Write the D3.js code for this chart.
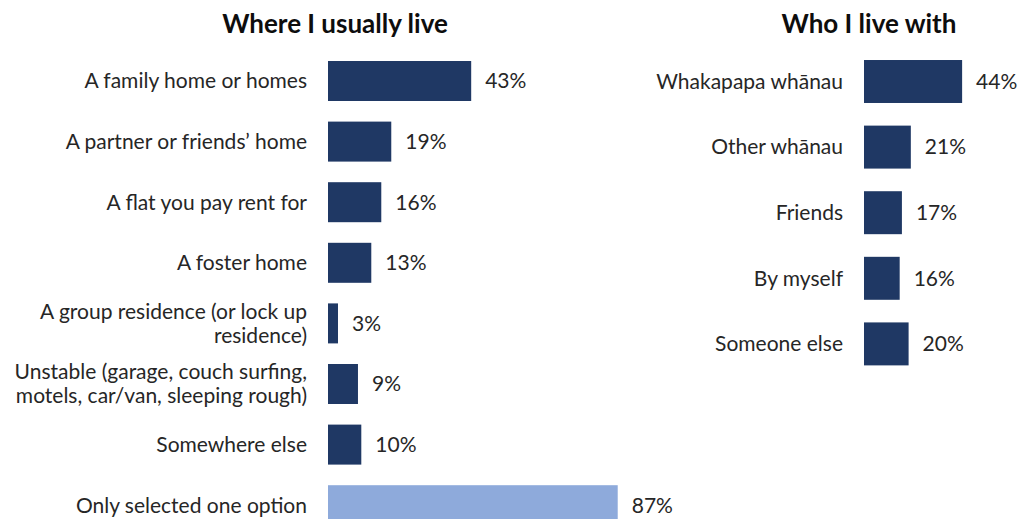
<!DOCTYPE html>
<html>
<head>
<meta charset="utf-8">
<script src="https://cdn.jsdelivr.net/npm/d3@7"></script>
<style>
  html, body { margin: 0; padding: 0; background: #fff; }
  svg { display: block; }
</style>
</head>
<body>
<svg id="chart" width="1018" height="519"></svg>
<script>
// Where I usually live
const placeCategories = [
  "A family home or homes",
  "A partner or friends\u2019 home",
  "A flat you pay rent for",
  "A foster home",
  "A group residence (or lock up\nresidence)",
  "Unstable (garage, couch surfing,\nmotels, car/van, sleeping rough)",
  "Somewhere else"
];
const placeValues = [43, 19, 16, 13, 3, 9, 10];

const singleOptionLabel = "Only selected one option";
const singleOptionValue = 87;

// Who I live with
const withCategories = ["Whakapapa wh\u0101nau", "Other wh\u0101nau", "Friends", "By myself", "Someone else"];
const withValues = [44, 21, 17, 16, 20];

const titles = ["Where I usually live", "Who I live with"];

const NAVY = "#1f3864";
const LIGHT = "#8eaadb";
const TEXT = "#262626";
const FONT = "Lato, 'Open Sans', sans-serif";
const LABEL_SIZE = 21;

const svg = d3.select("#chart");

function drawPanel(opts) {
  const { cats, vals, colors, x, y, labelX, title, titleX } = opts;
  const g = svg.append("g");

  g.append("text")
    .attr("x", titleX).attr("y", 33)
    .attr("text-anchor", "middle")
    .attr("font-family", FONT)
    .attr("font-weight", "bold")
    .attr("font-size", 26)
    .attr("fill", "#0d0d0d")
    .text(title);

  const rows = cats.map((c, i) => ({ c, v: vals[i], color: colors[i] }));

  g.selectAll("rect.bar").data(rows).join("rect")
    .attr("class", "bar")
    .attr("x", x(0))
    .attr("y", d => y(d.c))
    .attr("width", d => x(d.v) - x(0))
    .attr("height", y.bandwidth())
    .attr("fill", d => d.color);

  g.selectAll("text.val").data(rows).join("text")
    .attr("class", "val")
    .attr("x", d => x(d.v) + 14)
    .attr("y", d => y(d.c) + y.bandwidth() / 2)
    .attr("dy", "0.35em")
    .attr("font-family", FONT)
    .attr("font-size", LABEL_SIZE)
    .attr("fill", TEXT)
    .text(d => d.v + "%");

  // Category labels, one text element per line so wrapped labels stack cleanly
  const lineHeight = 24;
  const labelLines = [];
  rows.forEach(d => {
    const lines = d.c.split("\n");
    const cy = y(d.c) + y.bandwidth() / 2;
    lines.forEach((ln, k) => {
      labelLines.push({ text: ln, y: cy + (k - (lines.length - 1) / 2) * lineHeight });
    });
  });

  g.selectAll("text.cat").data(labelLines).join("text")
    .attr("class", "cat")
    .attr("x", labelX)
    .attr("y", d => d.y)
    .attr("dy", "0.35em")
    .attr("text-anchor", "end")
    .attr("font-family", FONT)
    .attr("font-size", LABEL_SIZE)
    .attr("fill", TEXT)
    .text(d => d.text);
}

// Left panel
const leftCats = placeCategories.concat([singleOptionLabel]);
const leftVals = placeValues.concat([singleOptionValue]);
const leftColors = leftCats.map((c, i) => i === leftCats.length - 1 ? LIGHT : NAVY);

const xLeft = d3.scaleLinear().domain([0, 100]).range([328, 661]);
const yLeft = d3.scaleBand().domain(leftCats)
  .range([50.7, 535.5]).paddingInner(0.34).paddingOuter(0.17);

drawPanel({
  cats: leftCats, vals: leftVals, colors: leftColors,
  x: xLeft, y: yLeft, labelX: 307, title: titles[0], titleX: 335
});

// Right panel
const xRight = d3.scaleLinear().domain([0, 100]).range([864, 1087]);
const yRight = d3.scaleBand().domain(withCategories)
  .range([48.7, 376.7]).paddingInner(0.345).paddingOuter(0.1725);

drawPanel({
  cats: withCategories, vals: withValues, colors: withCategories.map(() => NAVY),
  x: xRight, y: yRight, labelX: 843, title: titles[1], titleX: 869
});
</script>
</body>
</html>
